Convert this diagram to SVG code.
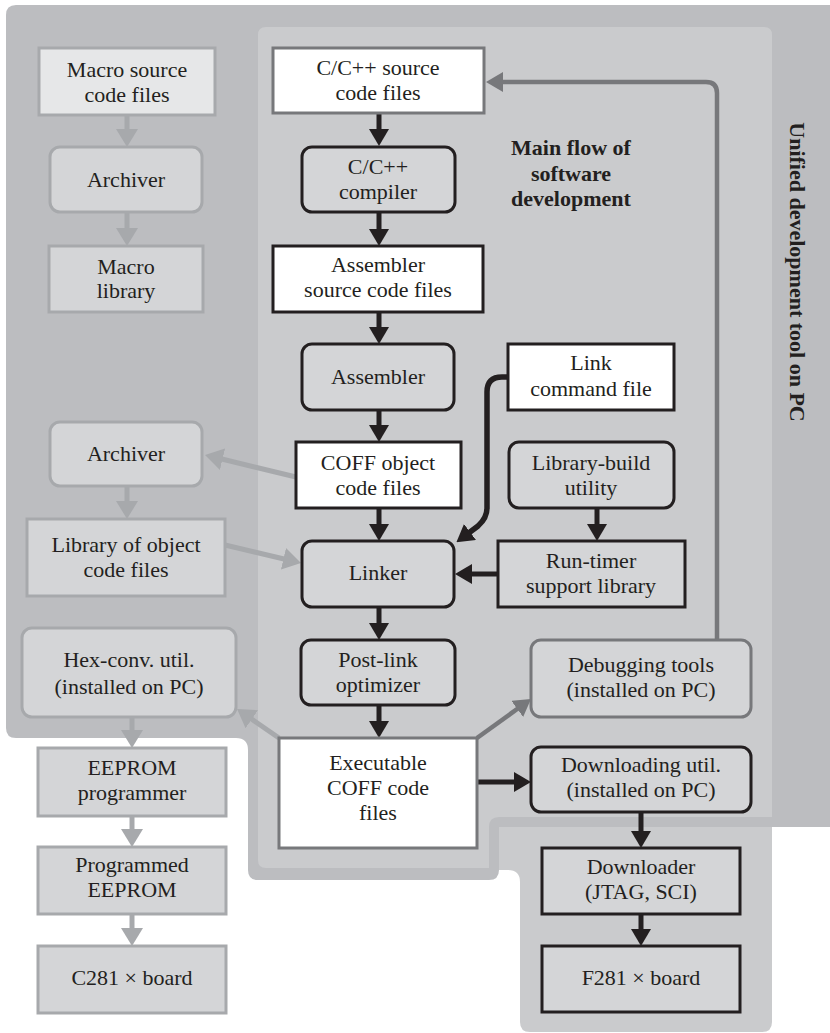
<svg xmlns="http://www.w3.org/2000/svg" width="830" height="1033" viewBox="0 0 830 1033">
<style>
text{font-family:"Liberation Serif","Times New Roman",serif;font-size:22px;fill:#231f20;text-anchor:middle}
.b{font-weight:bold;font-size:22px}
.k{fill:#d4d5d7;stroke:#231f20;stroke-width:3}
.kw{fill:#fff;stroke:#231f20;stroke-width:3}
.g{fill:#d4d5d7;stroke:#a7a9ac;stroke-width:3}
.gl{fill:#e6e7e8;stroke:#a7a9ac;stroke-width:3}
.dw{fill:#fff;stroke:#77787b;stroke-width:3}
.d{fill:#d4d5d7;stroke:#77787b;stroke-width:3}
.ck{fill:none;stroke:#231f20;stroke-width:5}
.cg{fill:none;stroke:#77787b;stroke-width:4.5}
.cl{fill:none;stroke:#a7a9ac;stroke-width:5}
</style>
<defs>
<marker id="ak" viewBox="0 0 17 20" markerWidth="17" markerHeight="20" refX="5" refY="10" orient="auto" markerUnits="userSpaceOnUse"><path d="M0,0 L17,10 L0,20 Z" fill="#231f20"/></marker>
<marker id="ag" viewBox="0 0 17 20" markerWidth="17" markerHeight="20" refX="5" refY="10" orient="auto" markerUnits="userSpaceOnUse"><path d="M0,0 L17,10 L0,20 Z" fill="#77787b"/></marker>
<marker id="al" viewBox="0 0 18 22" markerWidth="18" markerHeight="22" refX="6" refY="11" orient="auto" markerUnits="userSpaceOnUse"><path d="M0,0 L18,11 L0,22 Z" fill="#a7a9ac"/></marker>
</defs>

<g id="regions">
<path d="M6,15 Q6,5 16,5 H830 V827 H499 V870 Q499,880 489,880 H258 Q248,880 248,870 V750 Q248,738 236,738 H16 Q6,738 6,728 Z" fill="#bcbdc0"/>
<path d="M266,27 H764 Q772,27 772,35 V817 H499 Q489,817 489,827 V868 H266 Q258,868 258,860 V35 Q258,27 266,27 Z" fill="#cacbcd"/>
<path d="M499,827 H772 V1022 Q772,1032 762,1032 H530 Q520,1032 520,1022 V882 Q520,870 508,870 H499 Z" fill="#cacbcd"/>
</g>

<g id="labels">
<text class="b" x="571" y="155">Main flow of</text>
<text class="b" x="571" y="181">software</text>
<text class="b" x="571" y="206">development</text>
<text class="b" transform="translate(797,272) rotate(90)" y="7">Unified development tool on PC</text>
</g>

<g id="connectors">
<path class="cl" d="M127,116 V135" marker-end="url(#al)"/>
<path class="cl" d="M127,213 V234" marker-end="url(#al)"/>
<path class="cl" d="M127,487 V507" marker-end="url(#al)"/>
<path class="cl" d="M132,718 V736" marker-end="url(#al)"/>
<path class="cl" d="M132,817 V835" marker-end="url(#al)"/>
<path class="cl" d="M132,915 V934" marker-end="url(#al)"/>
<path class="cl" d="M296,477 L216.7,457.8" marker-end="url(#al)"/>
<path class="cl" d="M225,545 L289.3,560.2" marker-end="url(#al)"/>
<path class="cl" d="M279,738 L246.9,715.8" marker-end="url(#al)"/>
<path class="ck" d="M379,114 V134" marker-end="url(#ak)"/>
<path class="ck" d="M379,213 V234" marker-end="url(#ak)"/>
<path class="ck" d="M379,313 V332" marker-end="url(#ak)"/>
<path class="ck" d="M379,411 V430" marker-end="url(#ak)"/>
<path class="ck" d="M379,509 V529" marker-end="url(#ak)"/>
<path class="ck" d="M379,608 V628" marker-end="url(#ak)"/>
<path class="ck" d="M379,706 V726" marker-end="url(#ak)"/>
<path class="ck" d="M597,509 V529" marker-end="url(#ak)"/>
<path class="ck" d="M498,574 H467" marker-end="url(#ak)"/>
<path class="ck" style="stroke-width:5.5" d="M508,377 H502 Q487,377 487,392 V508 Q487,518 478,526 L466,535" marker-end="url(#ak)"/>
<path class="ck" d="M477,782 H519" marker-end="url(#ak)"/>
<path class="ck" d="M641,813 V836" marker-end="url(#ak)"/>
<path class="ck" d="M641,915 V934" marker-end="url(#ak)"/>
<path class="cg" d="M717,640 V93 Q717,82 706,82 H498" marker-end="url(#ag)"/>
<path class="cg" d="M477,738 L521.3,706" marker-end="url(#ag)"/>
</g>

<g id="n-macro-src"><rect class="gl" x="39" y="48" width="176" height="67"/><text x="127" y="77">Macro source</text><text x="127" y="102">code files</text></g>
<g id="n-archiver1"><rect class="g" x="50" y="147" width="152" height="65" rx="10"/><text x="126" y="187">Archiver</text></g>
<g id="n-macro-lib"><rect class="g" x="49" y="246" width="154" height="66"/><text x="126" y="274">Macro</text><text x="126" y="298">library</text></g>
<g id="n-archiver2"><rect class="g" x="50" y="422" width="152" height="64" rx="10"/><text x="126" y="461">Archiver</text></g>
<g id="n-libobj"><rect class="g" x="27" y="519" width="198" height="77"/><text x="126" y="552">Library of object</text><text x="126" y="577">code files</text></g>
<g id="n-hex"><rect class="g" x="22" y="628" width="214" height="89" rx="10"/><text x="129" y="667">Hex-conv. util.</text><text x="129" y="694">(installed on PC)</text></g>
<g id="n-eeprom-prog"><rect class="g" x="38" y="748" width="188" height="68"/><text x="132" y="775">EEPROM</text><text x="132" y="800">programmer</text></g>
<g id="n-eeprom"><rect class="g" x="38" y="847" width="188" height="67"/><text x="132" y="872">Programmed</text><text x="132" y="897">EEPROM</text></g>
<g id="n-c281"><rect class="g" x="38" y="946" width="188" height="67"/><text x="132" y="985">C281 × board</text></g>

<g id="n-csrc"><rect class="dw" x="273" y="48" width="211" height="65"/><text x="378" y="75">C/C++ source</text><text x="378" y="100">code files</text></g>
<g id="n-compiler"><rect class="k" x="302" y="147" width="153" height="65" rx="10"/><text x="378" y="174">C/C++</text><text x="378" y="199">compiler</text></g>
<g id="n-asmsrc"><rect class="kw" x="273" y="246" width="210" height="66"/><text x="378" y="272">Assembler</text><text x="378" y="297">source code files</text></g>
<g id="n-assembler"><rect class="k" x="302" y="344" width="152" height="66" rx="10"/><text x="378" y="384">Assembler</text></g>
<g id="n-coff"><rect class="kw" x="296" y="442" width="165" height="66"/><text x="378" y="470">COFF object</text><text x="378" y="495">code files</text></g>
<g id="n-linker"><rect class="k" x="302" y="541" width="152" height="66" rx="10"/><text x="378" y="580">Linker</text></g>
<g id="n-postlink"><rect class="k" x="301" y="640" width="154" height="65" rx="10"/><text x="378" y="667">Post-link</text><text x="378" y="692">optimizer</text></g>
<g id="n-exec"><rect class="dw" x="279" y="738" width="198" height="110"/><text x="378" y="770">Executable</text><text x="378" y="795">COFF code</text><text x="378" y="820">files</text></g>

<g id="n-linkcmd"><rect class="kw" x="508" y="344" width="166" height="66"/><text x="591" y="370">Link</text><text x="591" y="396">command file</text></g>
<g id="n-libbuild"><rect class="k" x="509" y="442" width="165" height="66" rx="10"/><text x="591" y="470">Library-build</text><text x="591" y="495">utility</text></g>
<g id="n-runtime"><rect class="k" x="498" y="541" width="187" height="66"/><text x="591" y="568">Run-timer</text><text x="591" y="593">support library</text></g>
<g id="n-debug"><rect class="d" x="531" y="640" width="220" height="77" rx="10"/><text x="641" y="672">Debugging tools</text><text x="641" y="697">(installed on PC)</text></g>
<g id="n-download-util"><rect class="k" x="531" y="747" width="220" height="65" rx="10"/><text x="641" y="772">Downloading util.</text><text x="641" y="797">(installed on PC)</text></g>
<g id="n-downloader"><rect class="k" x="542" y="848" width="198" height="66"/><text x="641" y="874">Downloader</text><text x="641" y="899">(JTAG, SCI)</text></g>
<g id="n-f281"><rect class="k" x="542" y="946" width="198" height="66"/><text x="641" y="985">F281 × board</text></g>
</svg>
